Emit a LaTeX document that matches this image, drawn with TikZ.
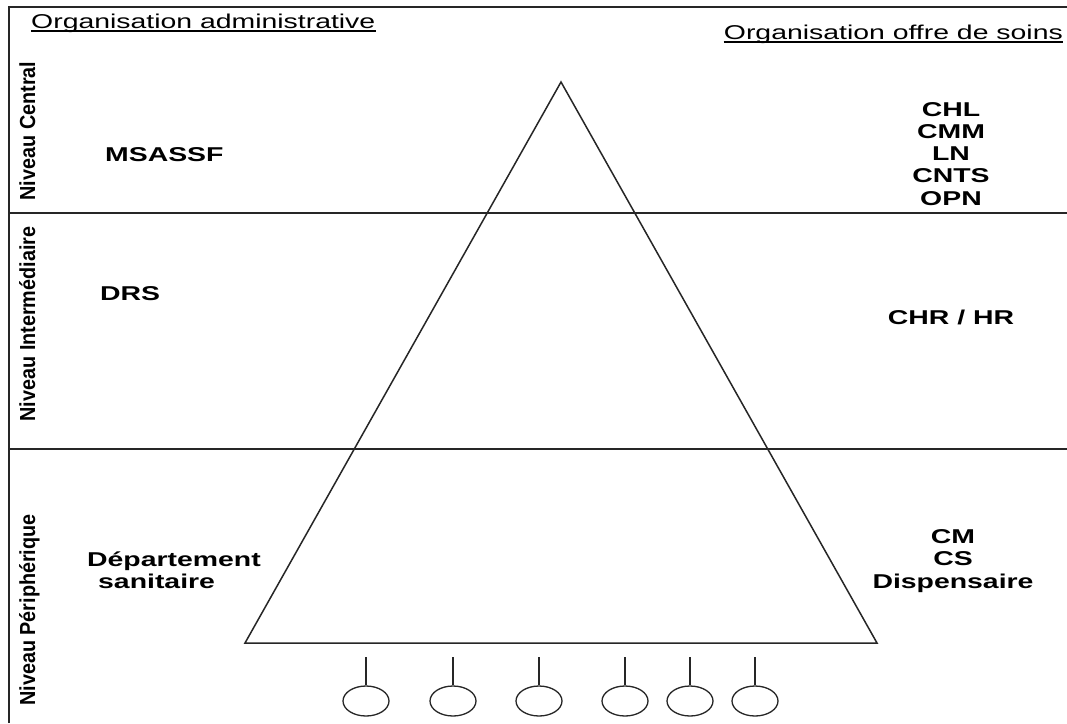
\documentclass[tikz,border=0pt]{standalone}
\usepackage{fontspec}
\setmainfont{Liberation Sans}
\usetikzlibrary{shapes.geometric}
\newcommand{\wide}[1]{\scalebox{1.42}[1]{#1}}
\newcommand{\tall}[1]{\scalebox{1}[1.1]{#1}}
\begin{document}
\begin{tikzpicture}[x=1pt,y=-1pt,
  lbl/.style={inner sep=0pt, font=\fontsize{20}{22}\selectfont\bfseries, anchor=base},
  head/.style={inner sep=0pt, font=\fontsize{20}{22}\selectfont},
  vlbl/.style={inner sep=0pt, font=\fontsize{19.8}{22}\selectfont\bfseries, rotate=90, anchor=base},
  frame/.style={line width=1.9pt, draw=black!85},
  tri/.style={line width=1.5pt, draw=black!85, line join=miter},
  stem/.style={line width=1.4pt, draw=black!85},
  pin/.style={draw=black!85, ellipse, line width=1.3pt, minimum width=46pt, minimum height=30pt, inner sep=0pt},
]
\fill[white] (0,0) rectangle (1067,723);
\useasboundingbox (0,0) rectangle (1067,723);

% frame and level separators
\coordinate (tl) at (9,7);
\coordinate (tr) at (1067,7);
\coordinate (bl) at (9,723);
\coordinate (l1a) at (9,213);
\coordinate (l1b) at (1067,213);
\coordinate (l2a) at (9,449);
\coordinate (l2b) at (1067,449);
\draw[frame] (bl) -- (tl) -- (tr);
\draw[frame] (l1a) -- (l1b);
\draw[frame] (l2a) -- (l2b);

% headings
\node[head, anchor=base west] (h1) at (31,28) {\wide{Organisation administrative}};
\node[head, anchor=base east] (h2) at (1063,39) {\wide{Organisation offre de soins}};
\draw[line width=1.4pt] ([yshift=-3pt]h1.base west) -- ([yshift=-3pt]h1.base east);
\draw[line width=1.4pt] ([yshift=-3pt]h2.base west) -- ([yshift=-3pt]h2.base east);

% vertical level labels
\node[vlbl] (v1) at (35,131) {\tall{Niveau Central}};
\node[vlbl] (v2) at (35,324) {\tall{Niveau Intermédiaire}};
\node[vlbl] (v3) at (35,610) {\tall{Niveau Périphérique}};

% administrative side
\node[lbl, anchor=base west] (msassf) at (105,161) {\wide{MSASSF}};
\node[lbl, anchor=base west] (drs) at (100,300) {\wide{DRS}};
\node[lbl, anchor=base west] (dep1) at (87,566) {\wide{Département}};
\node[lbl, anchor=base west] (dep2) at (98,588) {\wide{sanitaire}};

% care offer side
\node[lbl] (chl) at (951,116) {\wide{CHL}};
\node[lbl] (cmm) at (951,138.25) {\wide{CMM}};
\node[lbl] (ln) at (951,160.5) {\wide{LN}};
\node[lbl] (cnts) at (951,182.75) {\wide{CNTS}};
\node[lbl] (opn) at (951,205) {\wide{OPN}};
\node[lbl] (chr) at (951,324) {\wide{CHR / HR}};
\node[lbl] (cm) at (953,543) {\wide{CM}};
\node[lbl] (cs) at (953,565) {\wide{CS}};
\node[lbl] (disp) at (953,588) {\wide{Dispensaire}};

% pyramid
\coordinate (apex) at (561,82);
\coordinate (tbl) at (245,643);
\coordinate (tbr) at (877,643);
\draw[tri] (apex) -- (tbl) -- (tbr) -- cycle;

% pins
\foreach \i/\x in {1/366,2/453,3/539,4/625,5/690,6/755}{
  \node[pin] (c\i) at (\x,701) {};
  \coordinate (s\i) at (\x,657);
  \draw[stem] (s\i) -- (c\i.north);
}
\end{tikzpicture}
\end{document}
